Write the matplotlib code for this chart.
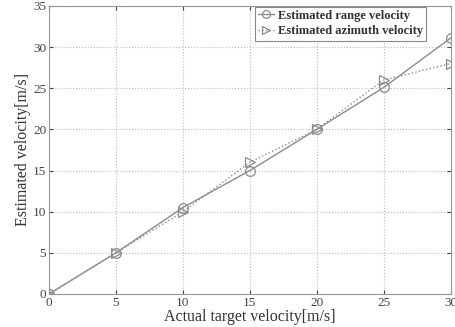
import matplotlib
matplotlib.use("Agg")
import matplotlib.pyplot as plt

actual = [0, 5, 10, 15, 20, 25, 30]
range_vel = [0, 5, 10.5, 15, 20, 25.1, 31.1]
azimuth_vel = [0, 5, 10, 16, 20, 26, 28]
xticks = [0, 5, 10, 15, 20, 25, 30]
yticks = [0, 5, 10, 15, 20, 25, 30, 35]

plt.rcParams['font.family'] = ['Liberation Serif', 'DejaVu Serif']

fig = plt.figure(figsize=(4.56, 3.27), dpi=100)
ax = fig.add_axes([0.1075, 0.101, 0.881, 0.881])

c = '#8c8c8c'
ax.plot(actual, range_vel, '-', color=c, lw=1.0, marker='o', ms=7,
        mfc='none', mec=c, mew=0.9, label='Estimated range velocity')
ax.plot(actual, azimuth_vel, ':', color=c, lw=1.0, marker='>', ms=7,
        mfc='none', mec=c, mew=0.9, label='Estimated azimuth velocity')

ax.set_xlim(0, 30)
ax.set_ylim(0, 35)
ax.set_xticks(xticks)
ax.set_yticks(yticks)
ax.tick_params(direction='in', length=3, labelsize=9.5, colors='#444444',
               top=True, right=True, pad=2)
ax.grid(True, linestyle=':', color='#bbbbbb', lw=0.8)
for s in ax.spines.values():
    s.set_color('#999999')

ax.set_xlabel('Actual target velocity[m/s]', fontsize=11.5, labelpad=0, color='#333333')
ax.set_ylabel('Estimated velocity[m/s]', fontsize=11.5, labelpad=1, color='#333333')

leg = ax.legend(loc='upper right', bbox_to_anchor=(0.94, 1.0), fontsize=9,
                handlelength=1.3, handletextpad=0.3, borderpad=0.25,
                labelspacing=0.3, fancybox=False, framealpha=1,
                edgecolor='#888888', borderaxespad=0.05, markerscale=0.8)
leg.get_frame().set_linewidth(0.8)
for t in leg.get_texts():
    t.set_fontweight('bold')
    t.set_color('#333333')

fig.savefig('out.png', dpi=100)
